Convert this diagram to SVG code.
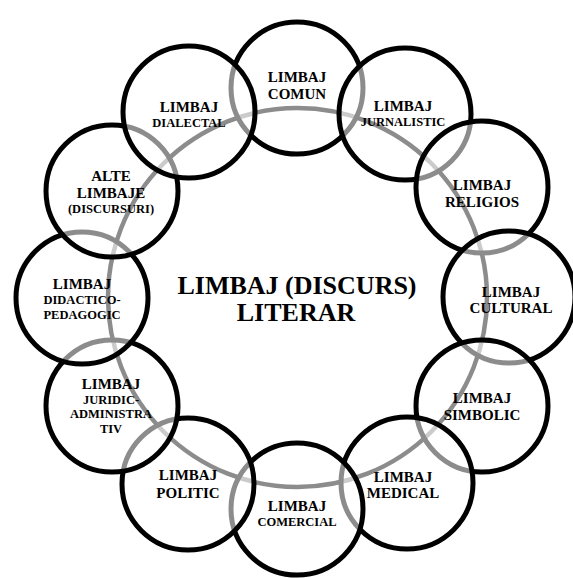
<svg xmlns="http://www.w3.org/2000/svg" width="573" height="578" viewBox="0 0 573 578">
<style>
.ring{fill:none;stroke:#000;stroke-width:4.5}
.node circle{fill:#fff;fill-opacity:0.55;stroke:#000;stroke-width:5}
text{font-family:"Liberation Serif","Times New Roman",serif;font-weight:bold;text-anchor:middle;fill:#000}
.b{font-size:15px}
.s{font-size:12.5px}
.c{font-size:26px}
</style>
<rect width="573" height="578" fill="#fff"/>
<g id="connectors">
<circle class="ring" cx="297.5" cy="297.5" r="189.5"/>
</g>
<g id="n-comun" class="node"><circle cx="297" cy="88" r="66"/><text class="b" x="297" y="82">LIMBAJ</text><text class="b" x="297" y="98.6">COMUN</text></g>
<g id="n-jurnalistic" class="node"><circle cx="405" cy="114" r="66"/><text class="b" x="403" y="111">LIMBAJ</text><text class="s" x="403" y="126">JURNALISTIC</text></g>
<g id="n-religios" class="node"><circle cx="482" cy="187" r="66"/><text class="b" x="482" y="190">LIMBAJ</text><text class="b" x="482" y="206.7">RELIGIOS</text></g>
<g id="n-cultural" class="node"><circle cx="509" cy="297" r="66"/><text class="b" x="511" y="296.7">LIMBAJ</text><text class="b" x="511" y="313.4">CULTURAL</text></g>
<g id="n-simbolic" class="node"><circle cx="482" cy="406" r="66"/><text class="b" x="482" y="402.7">LIMBAJ</text><text class="b" x="482" y="420">SIMBOLIC</text></g>
<g id="n-medical" class="node"><circle cx="407" cy="483" r="66"/><text class="b" x="403" y="481.7">LIMBAJ</text><text class="b" x="403" y="498.4">MEDICAL</text></g>
<g id="n-comercial" class="node"><circle cx="297" cy="509" r="66"/><text class="b" x="297" y="510.5">LIMBAJ</text><text class="s" x="297" y="525.5">COMERCIAL</text></g>
<g id="n-politic" class="node"><circle cx="188" cy="484" r="66"/><text class="b" x="188" y="480">LIMBAJ</text><text class="b" x="188" y="498.3">POLITIC</text></g>
<g id="n-juridic" class="node"><circle cx="112" cy="406" r="66"/><text class="b" x="111" y="389">LIMBAJ</text><text class="s" x="111" y="404">JURIDIC-</text><text class="s" x="111" y="418.3">ADMINISTRA</text><text class="s" x="111" y="432.7">TIV</text></g>
<g id="n-didactico" class="node"><circle cx="82" cy="298" r="66"/><text class="b" x="82" y="289">LIMBAJ</text><text class="s" x="82" y="304">DIDACTICO-</text><text class="s" x="82" y="318.5">PEDAGOGIC</text></g>
<g id="n-alte" class="node"><circle cx="112" cy="191" r="66"/><text class="b" x="111" y="181">ALTE</text><text class="b" x="111" y="197.7">LIMBAJE</text><text class="s" x="111" y="212.7">(DISCURSURI)</text></g>
<g id="n-dialectal" class="node"><circle cx="189" cy="112" r="66"/><text class="b" x="189" y="111.5">LIMBAJ</text><text class="s" x="189" y="126.5">DIALECTAL</text></g>
<g id="n-center"><text class="c" x="297" y="294">LIMBAJ (DISCURS)</text><text class="c" x="296" y="320.7">LITERAR</text></g>
</svg>
